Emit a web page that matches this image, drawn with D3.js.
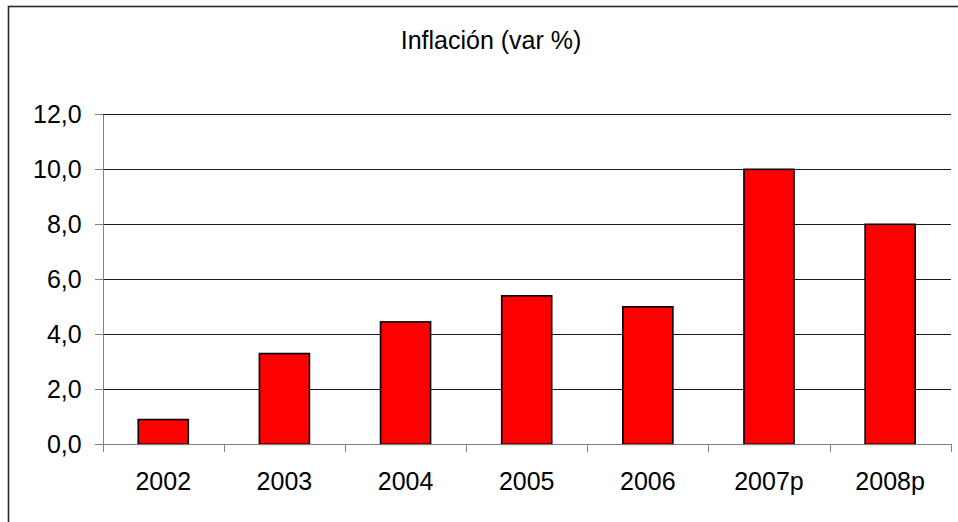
<!DOCTYPE html>
<html>
<head>
<meta charset="utf-8">
<script src="https://cdn.jsdelivr.net/npm/d3@7"></script>
<style>
  html, body { margin: 0; padding: 0; background: #fff; }
  svg { display: block; font-family: "Liberation Sans", Arial, sans-serif; }
</style>
</head>
<body>
<svg id="chart"></svg>
<script>
var categories = ['2002', '2003', '2004', '2005', '2006', '2007p', '2008p'];
var inflation = [0.9, 3.3, 4.45, 5.4, 5.0, 10.0, 8.0];
var yTicks = [0, 2, 4, 6, 8, 10, 12];
var title = 'Inflación (var %)';

var width = 958;
var height = 522;
var plot = { left: 102.7, right: 950.7, top: 114.3, bottom: 444.3 };

var data = categories.map(function (c, i) { return { cat: c, value: inflation[i] }; });

var svg = d3.select('#chart')
    .attr('width', width)
    .attr('height', height);

// outer chart frame (right and bottom edges fall outside the picture)
svg.append('rect')
    .attr('x', 8.5)
    .attr('y', 6.5)
    .attr('width', width + 20)
    .attr('height', height + 20)
    .attr('fill', 'none')
    .attr('stroke', '#2a2a2a')
    .attr('stroke-width', 1.6);

svg.append('text')
    .attr('x', 491)
    .attr('y', 48.5)
    .attr('text-anchor', 'middle')
    .attr('font-size', 25)
    .attr('fill', '#000')
    .text(title);

var x = d3.scaleBand()
    .domain(categories)
    .range([plot.left, plot.right])
    .paddingInner(0.587)
    .paddingOuter(0.2935);

var xEdge = d3.scaleLinear()
    .domain([0, categories.length])
    .range([plot.left, plot.right]);

var y = d3.scaleLinear()
    .domain([0, 12])
    .range([plot.bottom, plot.top]);

// horizontal gridlines
var grid = svg.append('g')
    .attr('transform', 'translate(' + plot.left + ',0)')
    .call(d3.axisLeft(y).tickValues(yTicks.slice(1)).tickSize(-(plot.right - plot.left)).tickFormat(''));
grid.select('.domain').remove();
grid.selectAll('line')
    .attr('stroke', '#1a1a1a')
    .attr('shape-rendering', 'crispEdges');

// bars
svg.append('g').selectAll('rect')
    .data(data)
    .join('rect')
    .attr('x', function (d) { return x(d.cat); })
    .attr('y', function (d) { return y(d.value); })
    .attr('width', x.bandwidth())
    .attr('height', function (d) { return y(0) - y(d.value); })
    .attr('fill', '#ff0000')
    .attr('stroke', '#000')
    .attr('stroke-width', 1.6);

// y axis
var yAxis = svg.append('g')
    .attr('transform', 'translate(' + plot.left + ',0)')
    .call(d3.axisLeft(y)
        .tickValues(yTicks)
        .tickSize(8)
        .tickSizeOuter(0)
        .tickPadding(13)
        .tickFormat(function (d) { return d.toFixed(1).replace('.', ','); }));
yAxis.select('.domain').attr('stroke', '#808080').attr('shape-rendering', 'crispEdges');
yAxis.selectAll('line').attr('stroke', '#808080').attr('shape-rendering', 'crispEdges');
yAxis.selectAll('text')
    .attr('font-size', 25)
    .attr('font-family', '"Liberation Sans", Arial, sans-serif')
    .attr('fill', '#000')
    .attr('dy', '0.32em');

// x axis: boundary ticks
var xTicks = svg.append('g')
    .attr('transform', 'translate(0,' + plot.bottom + ')')
    .call(d3.axisBottom(xEdge)
        .tickValues(d3.range(categories.length + 1))
        .tickSize(8)
        .tickSizeOuter(0)
        .tickFormat(''));
xTicks.select('.domain').attr('stroke', '#808080').attr('shape-rendering', 'crispEdges');
xTicks.selectAll('line').attr('stroke', '#808080').attr('shape-rendering', 'crispEdges');

// x axis: category labels
var xLabels = svg.append('g')
    .attr('transform', 'translate(0,' + plot.bottom + ')')
    .call(d3.axisBottom(x).tickSize(0).tickPadding(28));
xLabels.select('.domain').remove();
xLabels.selectAll('text')
    .attr('font-size', 25)
    .attr('font-family', '"Liberation Sans", Arial, sans-serif')
    .attr('fill', '#000');
</script>
</body>
</html>
